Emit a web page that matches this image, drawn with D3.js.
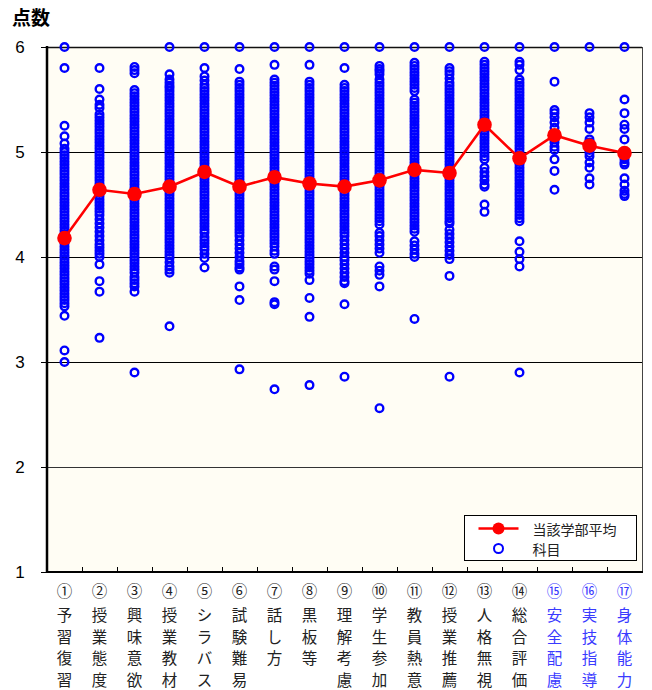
<!DOCTYPE html>
<html lang="ja">
<head>
<meta charset="utf-8">
<title>点数</title>
<script src="https://d3js.org/d3.v7.min.js"></script>
<style>
body { margin: 0; background: #fff; }
text { font-family: "Noto Sans CJK JP", sans-serif; }
</style>
</head>
<body>
<div id="container"></div>
<script>
// 設問ラベル
var circled = ["①","②","③","④","⑤","⑥","⑦","⑧","⑨","⑩","⑪","⑫","⑬","⑭","⑮","⑯","⑰"];
var subjects = ["予習復習","授業態度","興味意欲","授業教材","シラバス","試験難易","話し方","黒板等",
                "理解考慮","学生参加","教員熱意","授業推薦","人格無視","総合評価","安全配慮","実技指導","身体能力"];

// 当該学部平均
var facultyMean = [4.18,4.64,4.60,4.67,4.81,4.67,4.76,4.70,4.67,4.73,4.83,4.80,5.26,4.94,5.16,5.06,4.99];

// 科目ごとの点数 (読み取り値)
var scores = [
  [6.00,5.80,5.25,5.15,5.08,5.03,5.00,4.97,4.94,4.91,4.88,4.85,4.82,4.79,4.76,4.73,4.70,4.67,4.64,4.61,4.58,4.55,4.52,4.49,4.46,4.43,4.40,4.37,4.34,4.31,4.28,4.25,4.22,4.19,4.16,4.13,4.10,4.07,4.04,4.01,3.98,3.95,3.92,3.89,3.86,3.83,3.80,3.77,3.74,3.71,3.68,3.65,3.62,3.59,3.56,3.53,3.44,3.11,3.00],
  [5.80,5.60,5.50,5.45,5.42,5.36,5.33,5.30,5.27,5.24,5.21,5.18,5.15,5.12,5.09,5.06,5.03,5.00,4.97,4.94,4.91,4.88,4.85,4.82,4.79,4.76,4.73,4.70,4.67,4.64,4.61,4.58,4.55,4.52,4.49,4.46,4.43,4.40,4.36,4.32,4.28,4.24,4.20,4.16,4.12,4.09,4.06,4.03,4.00,3.93,3.77,3.67,3.23],
  [5.81,5.78,5.75,5.59,5.56,5.53,5.50,5.47,5.44,5.41,5.38,5.35,5.32,5.29,5.26,5.23,5.20,5.17,5.14,5.11,5.08,5.05,5.02,4.99,4.96,4.93,4.90,4.87,4.84,4.81,4.78,4.75,4.72,4.69,4.66,4.63,4.60,4.57,4.54,4.51,4.48,4.45,4.42,4.39,4.36,4.33,4.30,4.27,4.24,4.21,4.18,4.15,4.12,4.09,4.06,4.03,4.00,3.97,3.94,3.91,3.88,3.85,3.81,3.78,3.75,3.72,3.67,2.90],
  [6.00,5.74,5.69,5.66,5.63,5.61,5.58,5.55,5.52,5.49,5.46,5.43,5.40,5.37,5.34,5.31,5.28,5.25,5.22,5.19,5.16,5.13,5.10,5.07,5.04,5.01,4.98,4.95,4.92,4.89,4.86,4.83,4.80,4.77,4.74,4.71,4.68,4.65,4.62,4.59,4.56,4.53,4.50,4.47,4.44,4.41,4.38,4.35,4.32,4.29,4.26,4.23,4.20,4.17,4.14,4.11,4.08,4.05,4.02,3.99,3.95,3.91,3.88,3.85,3.34],
  [6.00,5.80,5.72,5.68,5.64,5.61,5.58,5.55,5.52,5.49,5.46,5.43,5.40,5.37,5.34,5.31,5.28,5.25,5.22,5.19,5.16,5.13,5.10,5.07,5.04,5.01,4.98,4.95,4.92,4.89,4.86,4.83,4.80,4.77,4.74,4.71,4.68,4.65,4.62,4.59,4.56,4.53,4.50,4.47,4.44,4.41,4.38,4.35,4.32,4.29,4.26,4.23,4.19,4.16,4.13,4.10,4.07,4.03,3.99,3.90],
  [6.00,5.79,5.67,5.64,5.61,5.58,5.55,5.52,5.49,5.46,5.43,5.40,5.37,5.34,5.31,5.28,5.25,5.22,5.19,5.16,5.13,5.10,5.07,5.04,5.01,4.98,4.95,4.92,4.89,4.86,4.83,4.80,4.77,4.74,4.71,4.68,4.65,4.62,4.59,4.56,4.53,4.50,4.47,4.44,4.41,4.38,4.35,4.32,4.29,4.26,4.23,4.20,4.16,4.12,4.08,4.04,4.00,3.96,3.93,3.90,3.88,3.72,3.59,2.93],
  [6.00,5.83,5.69,5.66,5.63,5.60,5.57,5.54,5.51,5.48,5.45,5.42,5.39,5.36,5.33,5.30,5.27,5.24,5.21,5.18,5.15,5.12,5.09,5.06,5.03,5.00,4.97,4.94,4.91,4.88,4.85,4.82,4.79,4.76,4.73,4.70,4.67,4.64,4.61,4.58,4.55,4.52,4.49,4.46,4.43,4.40,4.37,4.34,4.31,4.28,4.25,4.22,4.19,4.16,4.13,4.10,4.06,4.03,3.91,3.88,3.77,3.57,3.55,2.74],
  [6.00,5.83,5.67,5.64,5.61,5.58,5.55,5.52,5.49,5.46,5.43,5.40,5.37,5.34,5.31,5.28,5.25,5.22,5.19,5.16,5.13,5.10,5.07,5.04,5.01,4.98,4.95,4.92,4.89,4.86,4.83,4.80,4.77,4.74,4.71,4.68,4.65,4.62,4.59,4.56,4.53,4.50,4.47,4.44,4.41,4.38,4.35,4.32,4.29,4.26,4.23,4.20,4.17,4.14,4.11,4.08,4.05,4.02,3.99,3.96,3.93,3.90,3.87,3.84,3.78,3.61,3.43,2.78],
  [6.00,5.80,5.64,5.61,5.58,5.55,5.52,5.49,5.46,5.43,5.40,5.37,5.34,5.31,5.28,5.25,5.22,5.19,5.16,5.13,5.10,5.07,5.04,5.01,4.98,4.95,4.92,4.89,4.86,4.83,4.80,4.77,4.74,4.71,4.68,4.65,4.62,4.59,4.56,4.53,4.50,4.47,4.44,4.41,4.38,4.35,4.32,4.29,4.26,4.23,4.20,4.16,4.12,4.08,4.04,4.00,3.97,3.93,3.89,3.85,3.81,3.77,3.75,3.55,2.86],
  [6.00,5.82,5.79,5.77,5.74,5.69,5.66,5.63,5.60,5.57,5.54,5.51,5.48,5.45,5.42,5.39,5.36,5.33,5.30,5.27,5.24,5.21,5.18,5.15,5.12,5.09,5.06,5.03,5.00,4.97,4.94,4.91,4.88,4.85,4.82,4.79,4.76,4.73,4.70,4.67,4.64,4.61,4.58,4.55,4.52,4.49,4.46,4.43,4.40,4.37,4.34,4.31,4.23,4.20,4.16,4.12,4.08,4.04,3.91,3.87,3.83,3.72,2.56],
  [6.00,5.85,5.82,5.79,5.76,5.73,5.70,5.67,5.64,5.61,5.58,5.50,5.47,5.44,5.41,5.38,5.35,5.32,5.29,5.26,5.23,5.20,5.17,5.14,5.11,5.08,5.05,5.02,4.99,4.96,4.93,4.90,4.87,4.84,4.81,4.78,4.75,4.72,4.69,4.66,4.63,4.60,4.57,4.54,4.51,4.48,4.45,4.42,4.39,4.36,4.33,4.30,4.27,4.24,4.15,4.11,4.07,4.03,4.00,3.41],
  [6.00,5.80,5.77,5.74,5.70,5.66,5.63,5.60,5.57,5.54,5.51,5.48,5.45,5.42,5.39,5.36,5.33,5.30,5.27,5.24,5.21,5.18,5.15,5.12,5.09,5.06,5.03,5.00,4.97,4.94,4.91,4.88,4.85,4.82,4.79,4.76,4.73,4.70,4.67,4.64,4.61,4.58,4.55,4.52,4.49,4.46,4.43,4.40,4.37,4.34,4.32,4.26,4.22,4.18,4.14,4.10,4.06,4.02,3.98,3.82,2.86],
  [6.00,5.86,5.83,5.80,5.77,5.74,5.71,5.68,5.65,5.62,5.59,5.56,5.53,5.50,5.47,5.44,5.41,5.38,5.35,5.32,5.29,5.26,5.23,5.20,5.17,5.14,5.11,5.08,5.05,5.02,4.99,4.96,4.93,4.85,4.81,4.77,4.73,4.69,4.67,4.50,4.43],
  [6.00,5.86,5.83,5.78,5.69,5.66,5.63,5.60,5.57,5.54,5.51,5.48,5.45,5.42,5.39,5.36,5.33,5.30,5.27,5.24,5.21,5.18,5.15,5.12,5.09,5.06,5.03,5.00,4.97,4.94,4.91,4.88,4.85,4.82,4.79,4.76,4.73,4.70,4.67,4.64,4.61,4.58,4.55,4.52,4.49,4.46,4.43,4.40,4.37,4.34,4.15,4.05,3.98,3.91,2.90],
  [6.00,5.67,5.40,5.37,5.33,5.28,5.23,5.15,5.12,5.09,5.05,5.02,4.93,4.82,4.64],
  [6.00,5.37,5.33,5.28,5.22,5.12,5.09,5.06,5.02,4.99,4.96,4.90,4.85,4.75,4.69],
  [6.00,5.50,5.37,5.26,5.22,5.12,4.93,4.90,4.88,4.75,4.69,4.63,4.60,4.58]
];

var yTicks = [1,2,3,4,5,6];
var legendLabels = ["当該学部平均","科目"];

var w = 652, h = 690;
var mLeft = 47, mRight = 642, mTop = 47, mBottom = 572;

var svg = d3.select("#container").append("svg")
    .attr("width", w).attr("height", h);

var x = d3.scaleBand().domain(d3.range(subjects.length)).range([mLeft, mRight]);
var y = d3.scaleLinear().domain([1, 6]).range([mBottom, mTop]);
var cx = function(i) { return x(i) + x.bandwidth() / 2; };

// plot background
svg.append("rect")
    .attr("x", mLeft).attr("y", mTop)
    .attr("width", mRight - mLeft).attr("height", mBottom - mTop)
    .attr("fill", "#fffdf4");

// grid lines (half pixel so they stay crisp)
svg.append("g")
    .selectAll("line")
    .data([2,3,4,5])
    .enter()
    .append("line")
        .attr("x1", mLeft).attr("x2", mRight)
        .attr("y1", function(d) { return Math.round(y(d)) + 0.5; })
        .attr("y2", function(d) { return Math.round(y(d)) + 0.5; })
        .attr("stroke", function(d) { return d == 2 ? "#333" : "#000"; })
        .attr("stroke-width", 1);

// frame
svg.append("line").attr("x1", mLeft).attr("x2", mRight).attr("y1", mTop + 0.5).attr("y2", mTop + 0.5)
    .attr("stroke", "#111").attr("stroke-width", 1.5);
svg.append("line").attr("x1", mRight + 0.5).attr("x2", mRight + 0.5).attr("y1", mTop).attr("y2", mBottom)
    .attr("stroke", "#444").attr("stroke-width", 1);

// x axis (ticks inside)
var xAxis = svg.append("g").attr("transform", "translate(0," + mBottom + ")");
xAxis.append("line").attr("x1", mLeft).attr("x2", mRight + 1)
    .attr("stroke", "#000").attr("stroke-width", 2);
xAxis.selectAll("line.tick")
    .data(d3.range(1, subjects.length))
    .enter()
    .append("line")
        .attr("class", "tick")
        .attr("x1", function(i) { return Math.round(x(i)) + 0.5; })
        .attr("x2", function(i) { return Math.round(x(i)) + 0.5; })
        .attr("y1", 0).attr("y2", -5)
        .attr("stroke", "#000").attr("stroke-width", 1);

// y axis
var yAxis = svg.append("g");
yAxis.append("line").attr("x1", mLeft).attr("x2", mLeft).attr("y1", mTop - 1).attr("y2", mBottom + 1)
    .attr("stroke", "#000").attr("stroke-width", 2.5);
yAxis.selectAll("line.tick")
    .data(yTicks)
    .enter()
    .append("line")
        .attr("class", "tick")
        .attr("x1", mLeft - 6).attr("x2", mLeft)
        .attr("y1", function(d) { return Math.round(y(d)) + 0.5; })
        .attr("y2", function(d) { return Math.round(y(d)) + 0.5; })
        .attr("stroke", "#000").attr("stroke-width", 1);
yAxis.selectAll("text")
    .data(yTicks)
    .enter()
    .append("text")
        .attr("x", 20)
        .attr("y", function(d) { return y(d); })
        .attr("text-anchor", "middle")
        .attr("dominant-baseline", "central")
        .style("font-family", "'Liberation Sans', Arial, sans-serif")
        .style("font-size", "17px")
        .text(function(d) { return d; });

// title
svg.append("text")
    .attr("x", 12).attr("y", 25)
    .style("font-size", "19px")
    .style("font-weight", "bold")
    .text("点数");

// subject scores
var pts = [];
scores.forEach(function(arr, i) {
    arr.forEach(function(v) { pts.push({i: i, v: v}); });
});
svg.append("g")
    .selectAll("circle")
    .data(pts)
    .enter()
    .append("circle")
        .attr("cx", function(d) { return cx(d.i); })
        .attr("cy", function(d) { return y(d.v); })
        .attr("r", 3.8)
        .attr("fill", "none")
        .attr("stroke", "#0000ff")
        .attr("stroke-width", 2.4);

// faculty mean
var line = d3.line()
    .x(function(d, i) { return cx(i); })
    .y(function(d) { return y(d); });
svg.append("path")
    .datum(facultyMean)
    .attr("d", line)
    .attr("fill", "none")
    .attr("stroke", "#ff0000")
    .attr("stroke-width", 2.6);
svg.append("g")
    .selectAll("circle")
    .data(facultyMean)
    .enter()
    .append("circle")
        .attr("cx", function(d, i) { return cx(i); })
        .attr("cy", function(d) { return y(d); })
        .attr("r", 7.3)
        .attr("fill", "#ff0000");

// x labels (vertical)
var labels = svg.append("g");
subjects.forEach(function(s, i) {
    var col = i >= 14 ? "#3a3aff" : "#222";
    labels.append("text")
        .attr("x", cx(i)).attr("y", 590)
        .attr("text-anchor", "middle")
        .attr("dominant-baseline", "central")
        .attr("fill", col)
        .style("font-size", "15.5px")
        .text(circled[i]);
    s.split("").forEach(function(ch, k) {
        labels.append("text")
            .attr("x", cx(i)).attr("y", 614 + k * 21.7)
            .attr("text-anchor", "middle")
            .attr("dominant-baseline", "central")
            .attr("fill", col)
            .style("font-size", "15.5px")
            .text(ch);
    });
});

// legend
var lg = svg.append("g").attr("transform", "translate(464.5,515.5)");
lg.append("rect").attr("width", 172).attr("height", 45)
    .attr("fill", "#fff").attr("stroke", "#000").attr("stroke-width", 1);
lg.append("line").attr("x1", 14).attr("x2", 54).attr("y1", 13).attr("y2", 13)
    .attr("stroke", "#ff0000").attr("stroke-width", 2.6);
lg.append("circle").attr("cx", 34).attr("cy", 13).attr("r", 6).attr("fill", "#ff0000");
lg.append("circle").attr("cx", 34).attr("cy", 33).attr("r", 4.5)
    .attr("fill", "none").attr("stroke", "#0000ff").attr("stroke-width", 2);
lg.selectAll("text.lbl")
    .data(legendLabels)
    .enter()
    .append("text")
        .attr("class", "lbl")
        .attr("x", 68)
        .attr("y", function(d, i) { return 13 + i * 20; })
        .attr("dominant-baseline", "central")
        .style("font-size", "14px")
        .attr("fill", "#222")
        .text(function(d) { return d; });
</script>
</body>
</html>
